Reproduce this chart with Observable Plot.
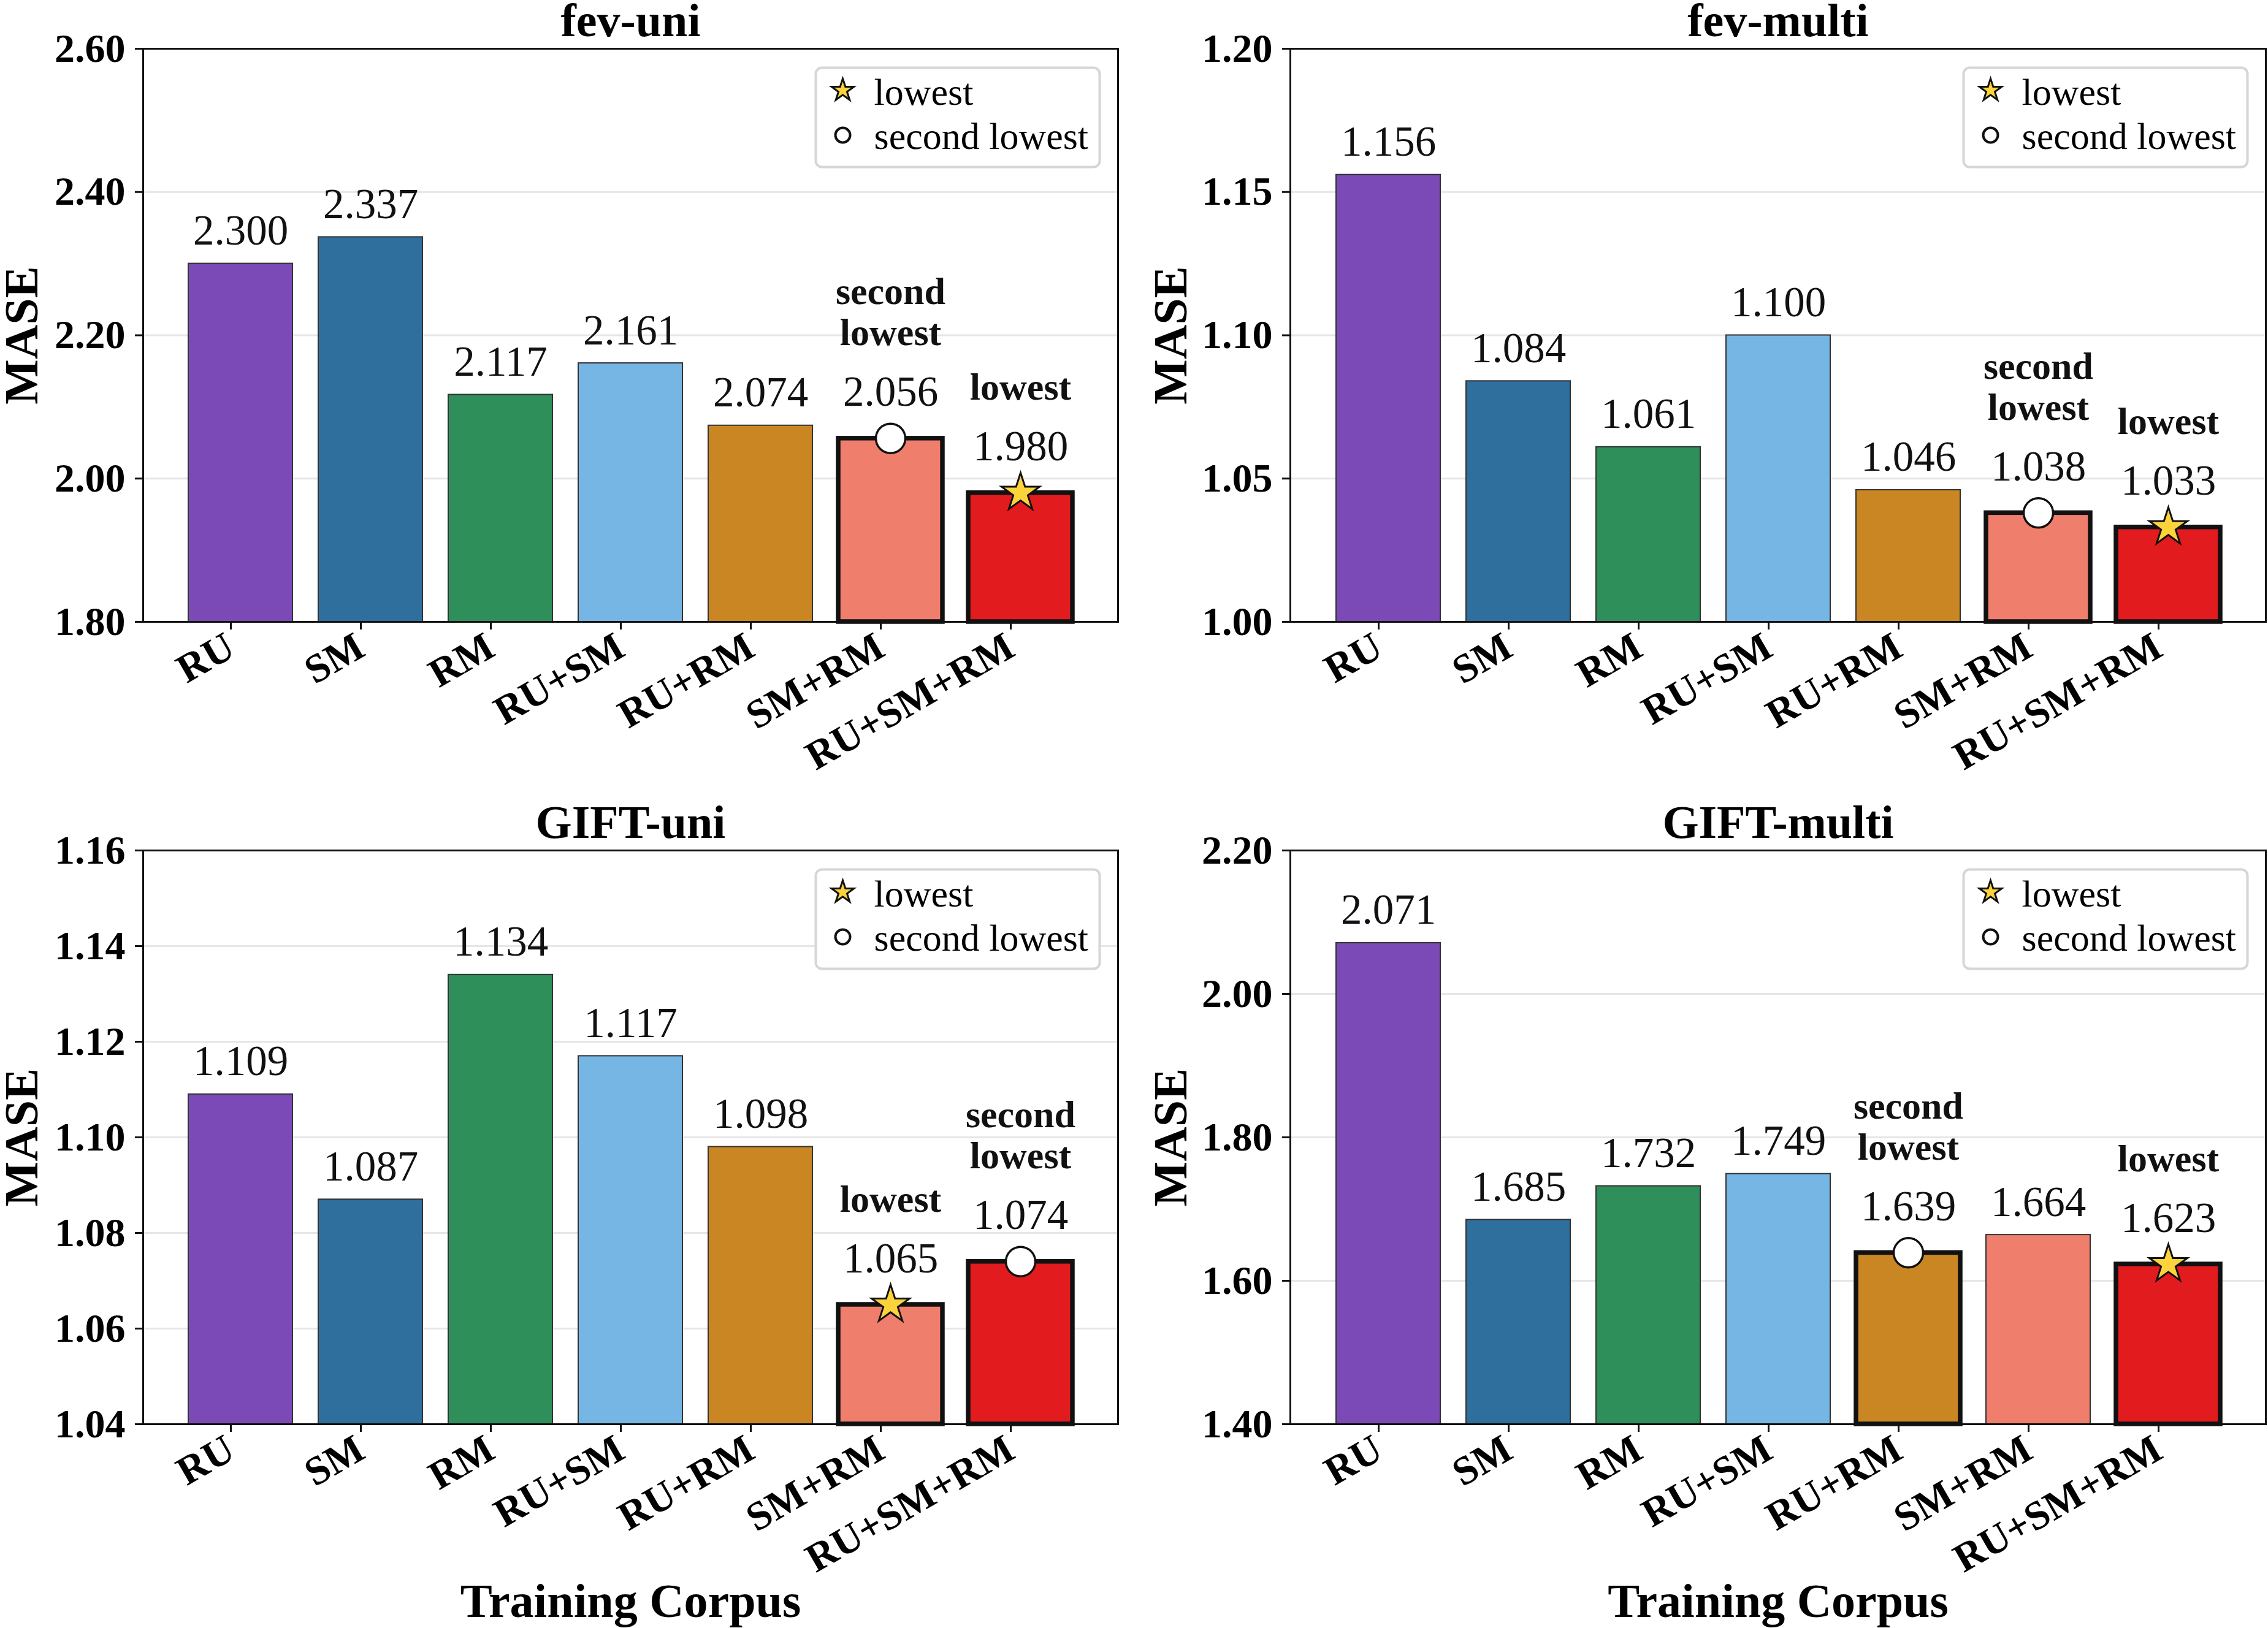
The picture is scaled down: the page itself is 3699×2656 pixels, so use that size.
<!DOCTYPE html>
<html>
<head>
<meta charset="utf-8">
<script src="https://cdn.jsdelivr.net/npm/d3@7"></script>
<script src="https://cdn.jsdelivr.net/npm/@observablehq/plot@0.6"></script>
<style>
  html, body { margin: 0; padding: 0; background: white; }
  #root { position: relative; width: 3699px; height: 2656px; background: white; overflow: hidden; }
  .panel { position: absolute; }
</style>
</head>
<body>
<div id="root"></div>
<script>
// ---------- data ----------
const categories = ["RU", "SM", "RM", "RU+SM", "RU+RM", "SM+RM", "RU+SM+RM"];
const barColors = ["#7b4ab6", "#2f6f9e", "#2e8f5a", "#76b6e5", "#c98623", "#f07e6c", "#e21b1f"];

const fevUni    = [2.300, 2.337, 2.117, 2.161, 2.074, 2.056, 1.980];
const fevMulti  = [1.156, 1.084, 1.061, 1.100, 1.046, 1.038, 1.033];
const giftUni   = [1.109, 1.087, 1.134, 1.117, 1.098, 1.065, 1.074];
const giftMulti = [2.071, 1.685, 1.732, 1.749, 1.639, 1.664, 1.623];

const fevUniTicks    = [1.80, 2.00, 2.20, 2.40, 2.60];
const fevMultiTicks  = [1.00, 1.05, 1.10, 1.15, 1.20];
const giftUniTicks   = [1.04, 1.06, 1.08, 1.10, 1.12, 1.14, 1.16];
const giftMultiTicks = [1.40, 1.60, 1.80, 2.00, 2.20];

const panelTitles = ["fev-uni", "fev-multi", "GIFT-uni", "GIFT-multi"];
const yLabel = "MASE";
const xLabel = "Training Corpus";
const legendLabels = ["lowest", "second lowest"];
const annotLowest = "lowest";
const annotSecond = "second\nlowest";

// ---------- drawing ----------
const FONT = "'Liberation Serif', 'Times New Roman', Times, 'DejaVu Serif', serif";

function panel({title, values, ticks, left, top, width, height, mt, mb, ml, mr, showX, yDx}) {
  const data = categories.map((c, i) => ({c, v: values[i]}));
  const order = d3.sort(data, d => d.v);
  const lowest = order[0].c, second = order[1].c;
  data.forEach(d => d.rank = d.c === lowest ? 1 : d.c === second ? 2 : 0);
  const normal = data.filter(d => d.rank === 0);
  const hl = data.filter(d => d.rank > 0);
  const r1 = data.filter(d => d.rank === 1);
  const r2 = data.filter(d => d.rank === 2);
  const fw = width - ml - mr;
  const fh = height - mt - mb;
  const boxW = 463, boxH = 162, boxR = 30, boxT = 31;
  const T = {fontFamily: FONT};

  const marks = [
    Plot.gridY(ticks, {stroke: "#e6e6e6", strokeOpacity: 1, strokeWidth: 3}),
    Plot.barY(normal, {x: "c", y1: ticks[0], y2: "v", fill: "c", stroke: "#333", strokeWidth: 2}),
    Plot.barY(hl, {x: "c", y1: ticks[0], y2: "v", fill: "c", stroke: "#111", strokeWidth: 7.5}),
    Plot.axisY(ticks, {...T, tickFormat: d3.format(".2f"), tickSize: 13, tickPadding: 16, fontSize: 66,
      fontWeight: "bold", strokeWidth: 3, label: null, stroke: "#111", fill: "#000"}),
    Plot.axisX({...T, tickRotate: -30, tickSize: 13, tickPadding: 22, fontSize: 66, fontWeight: "bold",
      strokeWidth: 3, label: null, dx: -16, stroke: "#111", fill: "#000"}),
    Plot.frame({stroke: "#111", strokeWidth: 3}),
    // value labels
    Plot.text(normal, {...T, x: "c", y: "v", text: d => d3.format(".3f")(d.v), dy: -31, lineAnchor: "bottom", fontSize: 69, fill: "#111"}),
    Plot.text(hl, {...T, x: "c", y: "v", text: d => d3.format(".3f")(d.v), dy: -53, lineAnchor: "bottom", fontSize: 69, fill: "#111"}),
    // annotations
    Plot.text(hl, {...T, x: "c", y: "v", text: d => d.rank === 1 ? annotLowest : annotSecond, dy: -152,
      lineAnchor: "bottom", fontSize: 62, fontWeight: "bold", lineHeight: 1.08, fill: "#111"}),
    // markers
    Plot.dot(r2, {x: "c", y: "v", symbol: "circle", r: 24, fill: "white", stroke: "#111", strokeWidth: 3.5}),
    Plot.dot(r1, {x: "c", y: "v", symbol: "star", r: 19.5, fill: "#fdd33b", stroke: "#111", strokeWidth: 3}),
    // title
    Plot.text([title], {...T, frameAnchor: "top", dy: -21, lineAnchor: "bottom", fontSize: 76, fontWeight: "bold", fill: "#000"}),
    // y label
    Plot.text([yLabel], {...T, frameAnchor: "left", rotate: -90, dx: yDx, lineAnchor: "bottom", textAnchor: "middle",
      fontSize: 78, fontWeight: "bold", fill: "#000"}),
    // legend
    Plot.frame({insetTop: boxT, insetRight: boxR, insetLeft: fw - boxR - boxW, insetBottom: fh - boxT - boxH,
      rx: 10, ry: 10, stroke: "#d6d6d6", strokeWidth: 4, fill: "white"}),
    Plot.dot([legendLabels[0]], {frameAnchor: "top-right", dx: -449, dy: 68, symbol: "star", r: 11.5,
      fill: "#fdd33b", stroke: "#111", strokeWidth: 3}),
    Plot.dot([legendLabels[1]], {frameAnchor: "top-right", dx: -449, dy: 141, symbol: "circle", r: 12,
      fill: "white", stroke: "#111", strokeWidth: 4}),
    Plot.text([legendLabels[0]], {...T, frameAnchor: "top-right", dx: -398, dy: 91, text: d => d, textAnchor: "start",
      lineAnchor: "bottom", fontSize: 62, fill: "#000"}),
    Plot.text([legendLabels[1]], {...T, frameAnchor: "top-right", dx: -398, dy: 163, text: d => d, textAnchor: "start",
      lineAnchor: "bottom", fontSize: 62, fill: "#000"})
  ];
  if (showX) {
    marks.push(Plot.text([xLabel], {...T, frameAnchor: "bottom", dy: 314, lineAnchor: "bottom", fontSize: 78,
      fontWeight: "bold", fill: "#000"}));
  }

  const svg = Plot.plot({
    width, height,
    marginTop: mt, marginBottom: mb, marginLeft: ml, marginRight: mr,
    style: {fontFamily: FONT, background: "white", maxWidth: "none", overflow: "visible", color: "#111"},
    x: {type: "band", domain: categories, paddingInner: 0.2, paddingOuter: 0.34, align: 0.5, label: null},
    y: {domain: [ticks[0], ticks[ticks.length - 1]], label: null},
    color: {domain: categories, range: barColors},
    marks
  });
  const div = document.createElement("div");
  div.className = "panel";
  div.style.left = left + "px";
  div.style.top = top + "px";
  div.style.width = width + "px";
  div.style.height = height + "px";
  div.appendChild(svg);
  document.getElementById("root").appendChild(div);
}

panel({title: panelTitles[0], values: fevUni, ticks: fevUniTicks, left: 0, top: 0, width: 1850, height: 1300,
  mt: 79, mb: 286, ml: 233, mr: 27, showX: false, yDx: -173});
panel({title: panelTitles[1], values: fevMulti, ticks: fevMultiTicks, left: 1850, top: 0, width: 1849, height: 1300,
  mt: 79, mb: 286, ml: 254, mr: 4, showX: false, yDx: -170});
panel({title: panelTitles[2], values: giftUni, ticks: giftUniTicks, left: 0, top: 1300, width: 1850, height: 1356,
  mt: 87, mb: 333, ml: 233, mr: 27, showX: true, yDx: -173});
panel({title: panelTitles[3], values: giftMulti, ticks: giftMultiTicks, left: 1850, top: 1300, width: 1849, height: 1356,
  mt: 87, mb: 333, ml: 254, mr: 4, showX: true, yDx: -170});
</script>
</body>
</html>
